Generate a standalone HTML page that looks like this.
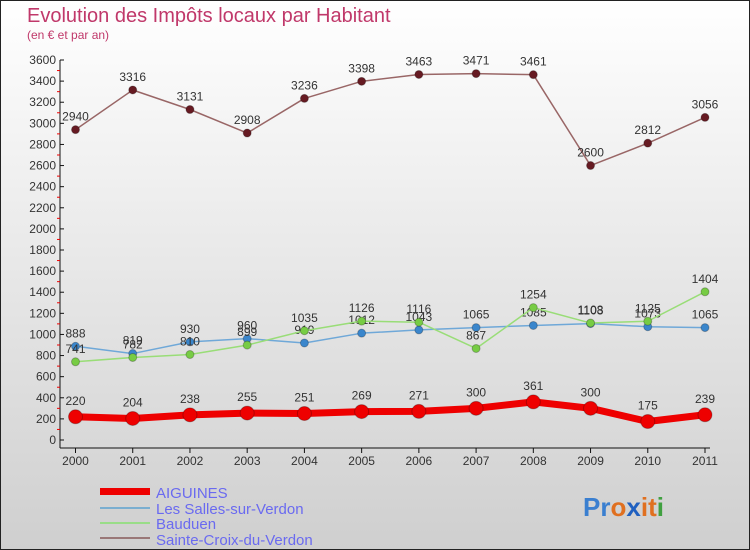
<!DOCTYPE html>
<html><head><meta charset="utf-8"><style>
body{margin:0;width:750px;height:550px;overflow:hidden;font-family:"Liberation Sans",sans-serif}
svg{display:block}
</style></head><body>
<svg id="c" width="750" height="550" xmlns="http://www.w3.org/2000/svg">
<defs><linearGradient id="bg" x1="0" y1="0" x2="0" y2="1"><stop offset="0" stop-color="#ffffff"/><stop offset="1" stop-color="#cfcfcf"/></linearGradient></defs>
<rect x="0.5" y="0.5" width="749" height="549" fill="url(#bg)" stroke="#222"/>
<text x="27" y="22" font-size="20" fill="#c0386a">Evolution des Impôts locaux par Habitant</text>
<text x="27" y="39" font-size="12" fill="#c0386a">(en € et par an)</text>
<g id="axes"></g><g id="series"></g>
<g>
<rect x="100" y="488" width="50" height="7" fill="#ee0000"/>
<text x="156" y="498" font-size="15" fill="#6a6af0">AIGUINES</text>
<rect x="100" y="507" width="50" height="2" fill="#7aaed0"/>
<text x="156" y="514" font-size="15" fill="#6a6af0">Les Salles-sur-Verdon</text>
<rect x="100" y="522" width="50" height="2" fill="#99dd88"/>
<text x="156" y="529" font-size="15" fill="#6a6af0">Bauduen</text>
<rect x="100" y="537" width="50" height="2" fill="#997777"/>
<text x="156" y="545" font-size="15" fill="#6a6af0">Sainte-Croix-du-Verdon</text>
</g>
<text x="583" y="516" font-size="26" font-weight="bold"><tspan fill="#3a7fd0">Pr</tspan><tspan fill="#e07020">o</tspan><tspan fill="#2060c0">x</tspan><tspan fill="#e07020">i</tspan><tspan fill="#e07020">t</tspan><tspan fill="#40a040">i</tspan></text>
</svg>
<script>
const years=[2000,2001,2002,2003,2004,2005,2006,2007,2008,2009,2010,2011];
const aiguines=[220,204,238,255,251,269,271,300,361,300,175,239];
const salles=[888,819,930,960,919,1012,1043,1065,1085,1103,1073,1065];
const bauduen=[741,782,810,899,1035,1126,1116,867,1254,1108,1125,1404];
const sainteCroix=[2940,3316,3131,2908,3236,3398,3463,3471,3461,2600,2812,3056];
const yTicks=[0,200,400,600,800,1000,1200,1400,1600,1800,2000,2200,2400,2600,2800,3000,3200,3400,3600];
const NS="http://www.w3.org/2000/svg";
const X=i=>75.5+i*(705-75.5)/(years.length-1);
const Y=v=>440-v*380/3600;
function mk(t,a,p){const e=document.createElementNS(NS,t);for(const k in a)e.setAttribute(k,a[k]);p.appendChild(e);return e;}
const ax=document.getElementById('axes'),sg=document.getElementById('series');
let l=mk('line',{x1:60,y1:60,x2:60,y2:448,stroke:'#111'},ax);


l=mk('line',{x1:60,y1:448,x2:710,y2:448,stroke:'#111'},ax);


yTicks.forEach(v=>{
 mk('line',{x1:60,y1:Y(v),x2:64,y2:Y(v),stroke:'#111'},ax);
 if(v<3600)mk('line',{x1:57,y1:Y(v+100),x2:60,y2:Y(v+100),stroke:'#e00'},ax);
 const t=mk('text',{x:56,y:Y(v)+4,'font-size':12,'text-anchor':'end',fill:'#333'},ax);
 t.textContent=v;
 
 
});
years.forEach((y,i)=>{
 mk('line',{x1:X(i),y1:448,x2:X(i),y2:453,stroke:'#111'},ax);
 const t=mk('text',{x:X(i),y:465,'font-size':12,'text-anchor':'middle',fill:'#333'},ax);
 t.textContent=y;
 
 
});
function series(vals,color,w,r,name,dark){
 const g=mk('g',{},sg);
 
 
 const p=mk('polyline',{points:vals.map((v,i)=>X(i)+','+Y(v)).join(' '),fill:'none',stroke:color,'stroke-width':w,'stroke-linejoin':'round'},g);
 
 
 vals.forEach((v,i)=>{
  const c=mk('circle',{cx:X(i),cy:Y(v),r:r,fill:dark,stroke:'rgba(0,0,0,0.25)'},g);
  
  
  const t=mk('text',{x:X(i),y:Y(v)-r-5,'font-size':12,'text-anchor':'middle',fill:'#333'},g);
  t.textContent=v;
  
  
 });
}
series(sainteCroix,'#996666',1.5,4,'sainte-croix','#661a22');
series(salles,'#6fa8d8',1.5,4,'salles','#3a86cc');
series(bauduen,'#99dd77',1.5,4,'bauduen','#77cc44');
series(aiguines,'#ee0000',7,7,'aiguines','#ee0000');
</script>
</body></html>
